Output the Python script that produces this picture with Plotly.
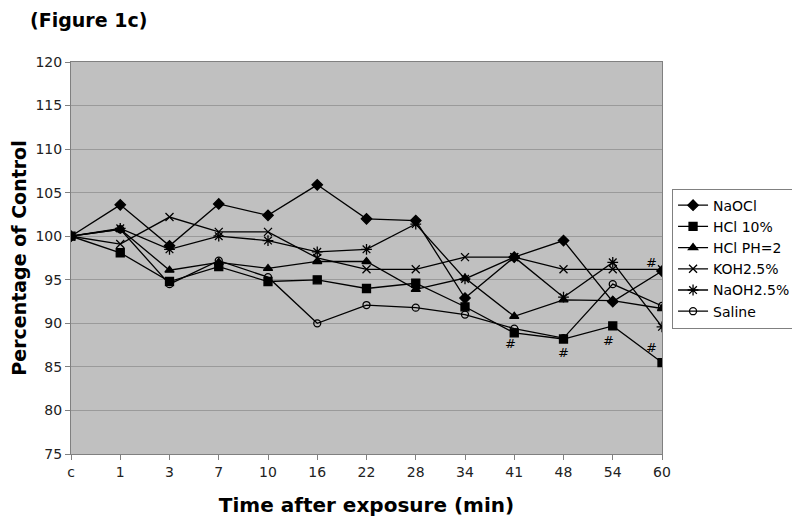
import plotly.graph_objects as go

times = ["c", "1", "3", "7", "10", "16", "22", "28", "34", "41", "48", "54", "60"]

naocl = [100, 103.6, 98.9, 103.7, 102.4, 105.9, 102.0, 101.8, 92.9, 97.6, 99.5, 92.5, 96.0]
hcl10 = [100, 98.1, 94.8, 96.5, 94.8, 95.0, 94.0, 94.6, 91.9, 88.9, 88.2, 89.7, 85.5]
hclph2 = [100, 100.8, 96.1, 97.0, 96.3, 97.1, 97.1, 93.9, 95.2, 90.8, 92.7, 92.6, 91.7]
koh = [100, 99.1, 102.2, 100.5, 100.5, 97.5, 96.2, 96.2, 97.6, 97.6, 96.2, 96.2, 96.2]
naoh = [100, 100.9, 98.5, 100.0, 99.5, 98.2, 98.5, 101.4, 95.1, 97.6, 93.0, 97.0, 89.6]
saline = [100, 100.8, 94.5, 97.2, 95.3, 90.0, 92.1, 91.8, 91.0, 89.4, 88.3, 94.5, 92.0]

series_names = ["NaOCl", "HCl 10%", "HCl PH=2", "KOH2.5%", "NaOH2.5%", "Saline"]
series_values = [naocl, hcl10, hclph2, koh, naoh, saline]
symbols = ["diamond", "square", "triangle-up", "x-thin-open", "asterisk-open", "circle-open"]
sizes = [8, 8, 8, 8, 9, 7]

hash_x = ["41", "48", "54", "60", "60"]
hash_y = [87.7, 86.7, 88.0, 97.0, 87.2]
hash_shift = [-4, 0, -4, -11, -11]

fig = go.Figure()
for name, vals, sym, sz in zip(series_names, series_values, symbols, sizes):
    fig.add_trace(go.Scatter(
        x=times, y=vals, name=name, mode="lines+markers",
        line=dict(color="black", width=1.3),
        marker=dict(symbol=sym, size=sz, color="black",
                    line=dict(color="black", width=1.3)),
    ))

for hx, hy, hs in zip(hash_x, hash_y, hash_shift):
    fig.add_annotation(x=times.index(hx), y=hy, text="#", showarrow=False, xshift=hs,
                       font=dict(family="DejaVu Sans", size=13, color="black"))

fig.update_layout(
    width=800, height=520,
    margin=dict(l=63, r=138, t=54, b=74),
    paper_bgcolor="white",
    plot_bgcolor="#c0c0c0",
    font=dict(family="DejaVu Sans", size=13, color="black"),
    title=dict(text="<b>(Figure 1c)</b>", x=0.0275, xanchor="left", y=0.976, yanchor="middle",
               font=dict(family="DejaVu Sans", size=19, color="black")),
    legend=dict(x=1.017, xanchor="left", y=0.677, yanchor="top",
                bgcolor="white", bordercolor="#808080", borderwidth=1,
                font=dict(family="DejaVu Sans", size=14, color="black"),
                itemwidth=30),
    xaxis=dict(type="category", range=[0, 12], showgrid=False, automargin=False,
               showline=True, linecolor="#808080", linewidth=1, mirror=True,
               ticks="outside", ticklen=5, tickcolor="#808080",
               tickfont=dict(size=14, color="#222222"),
               title=dict(text="<b>Time after exposure (min)</b>",
                          font=dict(family="DejaVu Sans", size=20, color="black"),
                          standoff=19)),
    yaxis=dict(range=[75, 120], dtick=5, showgrid=True, gridcolor="#9a9a9a", gridwidth=1,
               automargin=False,
               showline=True, linecolor="#808080", linewidth=1, mirror=True,
               ticks="outside", ticklen=5, tickcolor="#808080",
               tickfont=dict(size=14, color="#222222"), zeroline=False,
               title=dict(text="<b>Percentage of Control</b>",
                          font=dict(family="DejaVu Sans", size=19, color="black"),
                          standoff=8)),
)

fig.write_html("out.html")
